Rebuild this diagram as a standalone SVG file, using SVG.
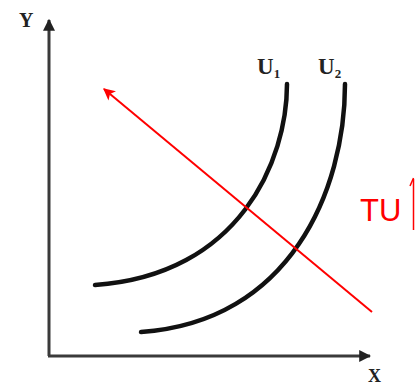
<svg xmlns="http://www.w3.org/2000/svg" width="417" height="388" viewBox="0 0 417 388">
<style>
.axis{stroke:#3a3a3a;stroke-width:3;fill:none}
.curve{stroke:#111;stroke-width:4.5;fill:none;stroke-linecap:round}
.red{stroke:#f00;stroke-width:2;fill:none}
.lbl{font-family:"Liberation Serif",serif;font-weight:bold;fill:#222}
.tu{font-family:"Liberation Sans",Arial,sans-serif;fill:#f00;font-size:31px}
</style>
<defs>
<marker id="axhead" viewBox="0 0 10 10" refX="9" refY="5" markerWidth="4" markerHeight="4" orient="auto" markerUnits="strokeWidth">
<path d="M0,0 L10,5 L0,10 Z" fill="#222"/>
</marker>
<marker id="redhead" viewBox="0 0 10 10" refX="9" refY="5" markerWidth="7" markerHeight="6" orient="auto" markerUnits="strokeWidth">
<path d="M0,0 L10,5 L0,10 L2.5,5 Z" fill="#f00"/>
</marker>
</defs>
<g id="axes">
<path class="axis" d="M49,356 L49,20" marker-end="url(#axhead)"/>
<path class="axis" d="M48,356 L370,356" marker-end="url(#axhead)"/>
<text class="lbl" x="19" y="27" font-size="20">Y</text>
<text class="lbl" x="368" y="382" font-size="18">X</text>
</g>
<g id="U1">
<path class="curve" d="M287,84 C287,160 240,275 95,285"/>
<text class="lbl" x="257" y="74" font-size="23">U<tspan font-size="13" dy="4">1</tspan></text>
</g>
<g id="U2">
<path class="curve" d="M345,84 C345,190 290,322 141,332"/>
<text class="lbl" x="318" y="74" font-size="23">U<tspan font-size="13" dy="4">2</tspan></text>
</g>
<g id="connectors">
<path class="red" d="M372,312 L104,89" marker-end="url(#redhead)"/>
<line x1="413.5" y1="230" x2="413.5" y2="179" stroke="#f00" stroke-width="1.5"/>
<path d="M410,186 L413.5,178" stroke="#f00" stroke-width="1.5" fill="none"/>
</g>
<g id="TU">
<text class="tu" x="360" y="221">TU</text>
</g>
</svg>
